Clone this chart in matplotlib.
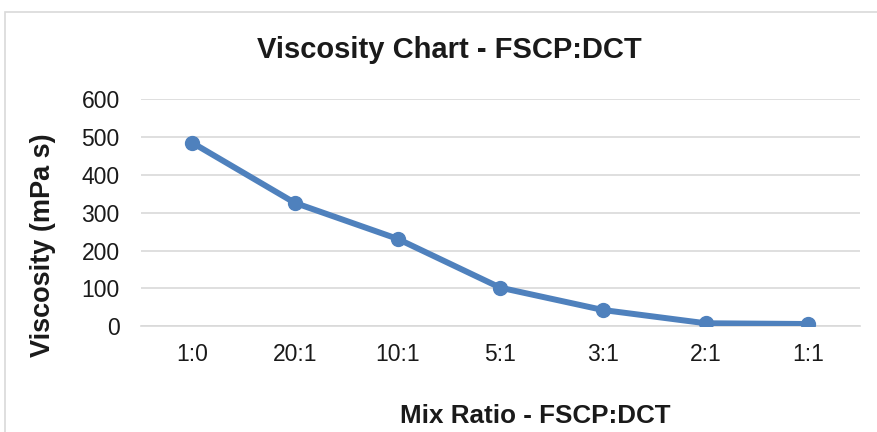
import matplotlib.pyplot as plt
from matplotlib.patches import Rectangle

plt.rcParams['font.family'] = ['Liberation Sans', 'DejaVu Sans']

# data
ratios = ["1:0", "20:1", "10:1", "5:1", "3:1", "2:1", "1:1"]
viscosity = [485, 326, 231, 102, 43, 8, 6]
y_ticks = [0, 100, 200, 300, 400, 500, 600]

fig = plt.figure(figsize=(8.77, 4.32), dpi=100)

# light grey chart border, as in the spreadsheet export
fig.patches.append(Rectangle((5 / 877, -0.05), 2, 1.05 - 11.5 / 432,
                             transform=fig.transFigure, fill=False,
                             edgecolor="#d9d9d9", linewidth=1.2))

ax = fig.add_axes([0.1604, 0.2447, 0.820, 0.526])
x = list(range(len(ratios)))
ax.plot(x, viscosity, color="#4f81bd", linewidth=4.3, marker="o",
        markersize=10, solid_capstyle="round", zorder=3)

ax.set_xlim(-0.5, len(ratios) - 0.5)
ax.set_ylim(0, 600)
ax.set_yticks(y_ticks)
ax.set_xticks(x)
ax.set_xticklabels(ratios)
ax.grid(axis="y", color="#d9d9d9", linewidth=1.2)
ax.set_axisbelow(True)
for s in ["top", "right", "left"]:
    ax.spines[s].set_visible(False)
ax.spines["bottom"].set_color("#d9d9d9")
ax.spines["bottom"].set_linewidth(1.2)
ax.tick_params(axis="both", length=0, labelsize=16.5, colors="#1a1a1a")
ax.tick_params(axis="x", pad=12)
ax.tick_params(axis="y", pad=15)

fig.text(449 / 877, 1 - 50 / 432, "Viscosity Chart - FSCP:DCT", ha="center",
         va="center", fontsize=21, fontweight="bold", color="#1a1a1a")
fig.text(535 / 877, 1 - 416 / 432, "Mix Ratio - FSCP:DCT", ha="center",
         va="center", fontsize=18.7, fontweight="bold", color="#1a1a1a")
fig.text(43 / 877, 1 - 245 / 432, "Viscosity (mPa s)", ha="center",
         va="center", rotation=90, fontsize=19.5, fontweight="bold",
         color="#1a1a1a")

fig.savefig("out.png", dpi=100, facecolor="white")
